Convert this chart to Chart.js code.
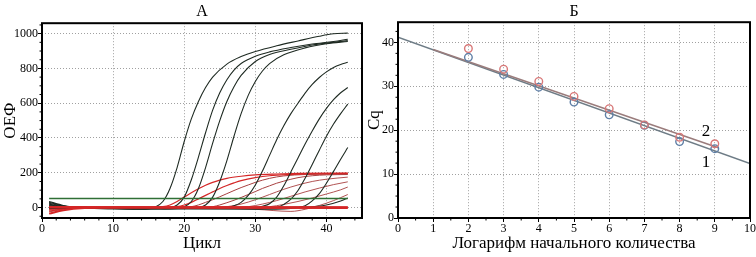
<!DOCTYPE html>
<html>
<head>
<meta charset="utf-8">
<script src="https://cdn.jsdelivr.net/npm/chart.js@4.4.1/dist/chart.umd.min.js"></script>
<style>
html, body { margin: 0; padding: 0; background: #fff; }
#wrap { position: relative; width: 756px; height: 257px; }
#chartA { position: absolute; left: 0; top: 0; width: 364px; height: 257px; }
#chartB { position: absolute; left: 364px; top: 0; width: 392px; height: 257px; }
</style>
</head>
<body>
<div id="wrap">
  <canvas id="chartA" width="364" height="257"></canvas>
  <canvas id="chartB" width="392" height="257"></canvas>
</div>
<script>
const serif = "'Liberation Serif', 'DejaVu Serif', serif";

// ---- panel A: amplification curves, [cycle, RFU] ----
const cycleTicks = [0, 10, 20, 30, 40];
const rfuTicks = [0, 200, 400, 600, 800, 1000];
const cycleMinor = [2, 4, 6, 8, 12, 14, 16, 18, 22, 24, 26, 28, 32, 34, 36, 38, 42, 44];
const rfuMinor = [-50, 50, 100, 150, 250, 300, 350, 450, 500, 550, 650, 700, 750, 850, 900, 950, 1050];

const black1 = [[1,35],[3,12],[6,-2],[10,-8],[14,-10],[16,5],[17,35],[18,110],[19,230],[20,380],[21,510],[22,610],[23,690],[24,750],[26,825],[28,868],[30,897],[33,930],[36,958],[39,985],[41,999],[43,1003]];
const black2 = [[1,25],[3,8],[6,0],[10,-5],[15,-8],[18,0],[19,15],[20,60],[21,160],[22,290],[23,430],[24,560],[25,660],[26,735],[27,790],[28,828],[30,870],[32,895],[35,920],[38,940],[41,955],[43,968]];
const black3 = [[1,15],[3,5],[6,0],[10,-5],[15,-8],[19,-5],[20,5],[21,35],[22,110],[23,230],[24,370],[25,500],[26,610],[27,695],[28,760],[30,840],[32,880],[35,910],[38,935],[41,950],[43,960]];
const black4 = [[1,20],[3,5],[6,0],[12,-5],[18,-8],[22,0],[23,15],[24,60],[25,150],[26,270],[27,410],[28,540],[29,645],[30,725],[31,785],[32,828],[34,878],[37,918],[40,942],[43,955]];
const black5 = [[1,10],[4,0],[12,-5],[20,-5],[26,0],[27,10],[28,30],[29,70],[30,130],[31,210],[32,300],[33,390],[34,470],[35,540],[36,600],[37,658],[38,708],[39,748],[40,780],[41,805],[42,822],[43,835]];
const black6 = [[1,5],[4,0],[15,-5],[25,-5],[30,0],[31,8],[32,22],[33,60],[34,125],[35,205],[36,285],[37,365],[38,440],[39,510],[40,570],[41,620],[42,660],[43,690]];
const black7 = [[1,0],[5,0],[15,-5],[28,-5],[33,0],[34,18],[35,48],[36,98],[37,168],[38,248],[39,330],[40,410],[41,480],[42,540],[43,595]];
const black8 = [[1,-5],[5,0],[20,-8],[30,-10],[35,-5],[36,0],[37,10],[38,38],[39,80],[40,140],[41,208],[42,278],[43,345]];
const black9 = [[1,30],[3,10],[6,0],[20,-5],[30,-5],[35,0],[38,5],[40,15],[42,38],[43,55]];

const red1 = [[1,-20],[3,-8],[6,0],[15,0],[17,5],[18,15],[19,35],[20,60],[21,85],[22,108],[23,128],[24,145],[25,158],[26,168],[28,180],[30,188],[33,193],[36,196],[43,198]];
const red2 = [[1,-10],[4,0],[18,0],[19,5],[20,15],[21,30],[22,50],[23,70],[24,90],[25,110],[26,127],[27,142],[28,155],[30,172],[32,183],[35,190],[38,194],[43,196]];
const red3 = [[1,10],[4,0],[20,0],[21,5],[22,15],[23,30],[24,45],[25,62],[26,80],[27,98],[28,115],[29,130],[30,145],[32,168],[34,182],[37,190],[43,193]];
const red4 = [[1,5],[4,0],[22,0],[24,5],[25,15],[26,28],[27,42],[28,58],[29,75],[30,92],[31,110],[32,125],[33,140],[34,152],[36,172],[38,183],[40,188],[43,190]];
const red5 = [[1,-5],[5,0],[24,0],[26,5],[28,20],[30,45],[32,75],[34,105],[36,130],[38,150],[40,163],[43,175]];
const red6 = [[1,0],[5,0],[27,0],[29,5],[31,20],[33,40],[35,65],[37,90],[39,112],[41,132],[43,148]];
const red7 = [[1,-15],[4,-3],[30,0],[32,5],[34,18],[36,35],[38,55],[40,78],[42,102],[43,118]];
const red8 = [[1,-25],[4,-5],[20,0],[30,-10],[35,-22],[37,-10],[39,12],[41,40],[43,75]];
const redFlat1 = [[1,-35],[3,-15],[6,-3],[12,0],[43,0]];
const redFlat2 = [[1,0],[43,-3]];
const redFlat3 = [[1,5],[43,3]];
const threshold = [[1,52],[43,52]];

// ---- panel B: standard curves ----
const logQty = [2, 3, 4, 5, 6, 7, 8, 9];
const cq1 = [36.6, 32.7, 29.8, 26.4, 23.5, 21.1, 17.4, 15.8];
const cq2 = [38.6, 33.9, 31.1, 27.7, 24.9, 21.2, 18.4, 16.9];
const fit1X = [0, 10];
const fit1Y = [41.2, 12.4];
const fit2X = [1, 9.1];
const fit2Y = [38.4, 16.0];
const logTicks = [0, 1, 2, 3, 4, 5, 6, 7, 8, 9, 10];
const cqTicks = [0, 10, 20, 30, 40];
const logMinor = [0.5, 1.5, 2.5, 3.5, 4.5, 5.5, 6.5, 7.5, 8.5, 9.5];
const cqMinor = [2.5, 5, 7.5, 12.5, 15, 17.5, 22.5, 25, 27.5, 32.5, 35, 37.5, 42.5];
const curveLabels = ['1', '2'];
const curveLabelX = [8.75, 8.75];
const curveLabelY = [12.7, 19.6];

const framePlugin = {
    id: 'frame',
    afterDatasetsDraw(chart, args, opts) {
        const ctx = chart.ctx;
        const a = chart.chartArea;
        const xs = chart.scales.x;
        const ys = chart.scales.y;
        ctx.save();
        ctx.strokeStyle = '#000';
        ctx.lineWidth = 1;
        ctx.beginPath();
        (opts.minorX || []).forEach(v => {
            const px = xs.getPixelForValue(v);
            ctx.moveTo(px, a.bottom);
            ctx.lineTo(px, a.bottom + 2.5);
        });
        (opts.minorY || []).forEach(v => {
            const py = ys.getPixelForValue(v);
            ctx.moveTo(a.left, py);
            ctx.lineTo(a.left - 2.5, py);
        });
        ctx.stroke();
        ctx.lineWidth = 2;
        ctx.strokeRect(a.left, a.top, a.right - a.left, a.bottom - a.top);
        if (opts.labels) {
            ctx.fillStyle = '#000';
            ctx.font = '17px ' + serif;
            ctx.textAlign = 'center';
            ctx.textBaseline = 'middle';
            opts.labels.forEach((t, i) => {
                ctx.fillText(t, xs.getPixelForValue(opts.labelX[i]), ys.getPixelForValue(opts.labelY[i]));
            });
        }
        ctx.restore();
    }
};

function curve(points, color, width) {
    return {
        data: points.map(p => ({x: p[0], y: p[1]})),
        borderColor: color,
        borderWidth: width,
        pointRadius: 0,
        cubicInterpolationMode: 'monotone',
        fill: false
    };
}

function axisOptions(min, max, tickValues, titleText, isX) {
    return {
        type: 'linear',
        min: min,
        max: max,
        afterBuildTicks: s => { s.ticks = tickValues.map(v => ({value: v})); },
        afterFit: s => { if (isX) { s.height = 39; } },
        grid: {color: '#a0a0a0', lineWidth: 1, drawTicks: true, tickLength: 4, tickColor: '#000'},
        border: {display: false, dash: [1, 2]},
        ticks: {color: '#000', font: {family: serif, size: 12}, padding: isX ? 0 : 0, maxRotation: 0, callback: v => String(v)},
        title: {display: true, text: titleText, color: '#000', font: {family: serif, size: 17}, padding: isX ? {top: 0, bottom: 3} : 0}
    };
}

const blackColor = '#1f2b23';
const redBright = '#d42626';
const redDark = '#a84040';

const yA = axisOptions(-60, 1060, rfuTicks, 'ОЕФ', false);
yA.afterFit = s => { s.width = 42; };
const xA = axisOptions(0, 45, cycleTicks, 'Цикл', true);

new Chart(document.getElementById('chartA'), {
    type: 'line',
    data: {
        datasets: [
            curve(redFlat1, redBright, 2),
            curve(redFlat2, redBright, 2),
            curve(redFlat3, redBright, 1.5),
            curve(threshold, '#2f6f35', 1.6),
            curve(black1, blackColor, 1.1),
            curve(black2, blackColor, 1.1),
            curve(black3, blackColor, 1.1),
            curve(black4, blackColor, 1.1),
            curve(black5, blackColor, 1.1),
            curve(black6, blackColor, 1.1),
            curve(black7, blackColor, 1.1),
            curve(black8, blackColor, 1.1),
            curve(black9, blackColor, 1.1),
            curve(red1, redBright, 1.2),
            curve(red2, redBright, 1.2),
            curve(red3, redDark, 1),
            curve(red4, redDark, 1),
            curve(red5, redDark, 0.9),
            curve(red6, redDark, 0.9),
            curve(red7, redDark, 0.9),
            curve(red8, redDark, 0.9)
        ]
    },
    options: {
        responsive: false,
        animation: false,
        layout: {padding: {left: 0, right: 2, top: 0, bottom: 0}},
        plugins: {
            legend: {display: false},
            tooltip: {enabled: false},
            title: {display: true, text: 'А', fullSize: false, color: '#000', font: {family: serif, size: 16, weight: 'normal'}, padding: {top: 2, bottom: 2}},
            frame: {minorX: cycleMinor, minorY: rfuMinor}
        },
        scales: {x: xA, y: yA}
    },
    plugins: [framePlugin]
});

const yB = axisOptions(0, 44.6, cqTicks, 'Cq', false);
yB.afterFit = s => { s.width = 34; };
const xB = axisOptions(0, 10, logTicks, 'Логарифм начального количества', true);

new Chart(document.getElementById('chartB'), {
    type: 'scatter',
    data: {
        datasets: [
            {
                data: logQty.map((x, i) => ({x: x, y: cq2[i]})),
                pointRadius: 3.8,
                pointBorderWidth: 1.4,
                pointBackgroundColor: 'rgba(0,0,0,0)',
                pointBorderColor: '#d87878',
                showLine: false
            },
            {
                data: logQty.map((x, i) => ({x: x, y: cq1[i]})),
                pointRadius: 3.8,
                pointBorderWidth: 1.4,
                pointBackgroundColor: 'rgba(0,0,0,0)',
                pointBorderColor: '#5f7fa6',
                showLine: false
            },
            {
                data: fit2X.map((x, i) => ({x: x, y: fit2Y[i]})),
                showLine: true,
                pointRadius: 0,
                borderColor: '#9a7c7c',
                borderWidth: 1.5
            },
            {
                data: fit1X.map((x, i) => ({x: x, y: fit1Y[i]})),
                showLine: true,
                pointRadius: 0,
                borderColor: '#6e7c86',
                borderWidth: 1.5
            }
        ]
    },
    options: {
        responsive: false,
        animation: false,
        layout: {padding: {left: 0, right: 5, top: 0, bottom: 0}},
        plugins: {
            legend: {display: false},
            tooltip: {enabled: false},
            title: {display: true, text: 'Б', fullSize: false, color: '#000', font: {family: serif, size: 16, weight: 'normal'}, padding: {top: 2, bottom: 1}},
            frame: {minorX: logMinor, minorY: cqMinor, labels: curveLabels, labelX: curveLabelX, labelY: curveLabelY}
        },
        scales: {x: xB, y: yB}
    },
    plugins: [framePlugin]
});
</script>
</body>
</html>
